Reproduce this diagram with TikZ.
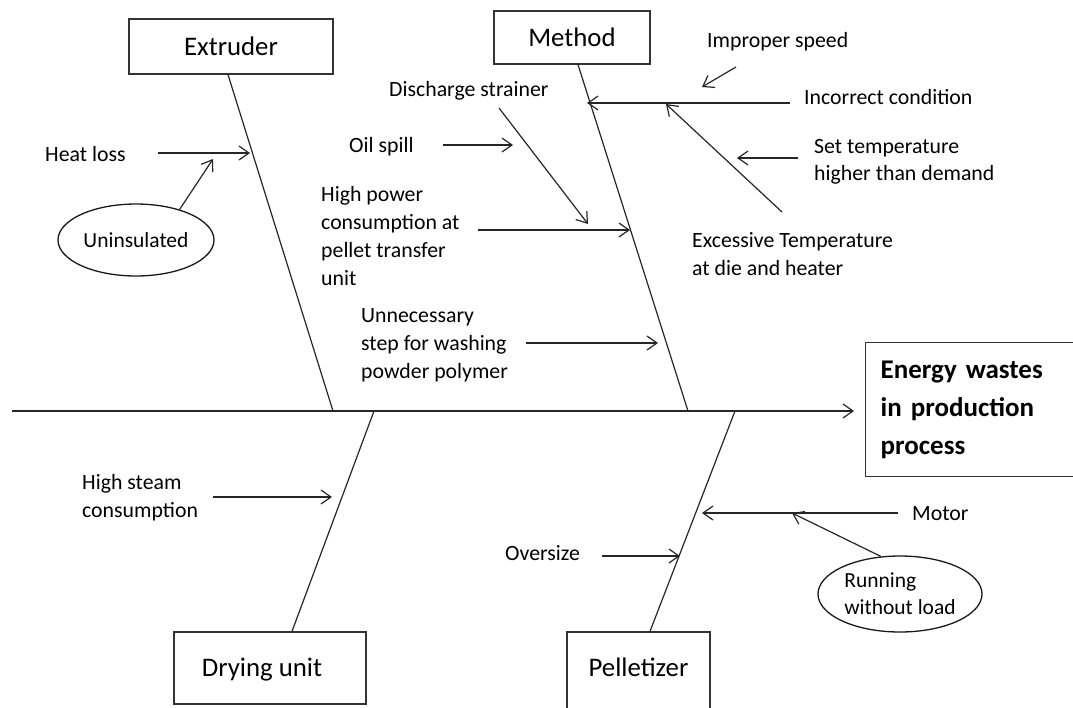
\documentclass[tikz,border=0pt]{standalone}
\usepackage{fontspec}
\setmainfont{Carlito}
\usetikzlibrary{arrows.meta,shapes.geometric}
\begin{document}
\begin{tikzpicture}[x=1pt,y=-1pt,
  ln/.style={line width=1.2pt, draw=black!85},
  arr/.style={ln, -{Straight Barb[length=10pt,width=14pt,line width=1.2pt]}},
  lbl/.style={font=\fontsize{21.8}{28}\selectfont, inner sep=0pt, anchor=base west, align=left, text=black},
  catbox/.style={draw=black!80, line width=1.3pt, inner sep=0pt, font=\fontsize{26.8}{32}\selectfont, text height=17pt, text depth=0pt},
  causeell/.style={ellipse, draw=black!90, line width=1.3pt, inner sep=0pt, font=\fontsize{21.5}{27}\selectfont, align=left}
]
\useasboundingbox (0,0) rectangle (1073,707);

% category boxes
\node[catbox, minimum width=204pt, minimum height=55pt] (ext) at (231,46.5) {Extruder};
\node[catbox, minimum width=156pt, minimum height=53pt] (meth) at (572,37.5) {Method};
\node[catbox, minimum width=192pt, minimum height=72pt] (dry) at (270,668) {Drying unit\hspace*{16pt}};
\node[catbox, minimum width=143pt, minimum height=80pt, text depth=8pt] (pel) at (638.5,672) {Pelletizer};

% effect box
\node[draw=black!80, line width=1.3pt, anchor=north west, minimum width=220pt, minimum height=134pt,
      inner xsep=15pt, inner ysep=0pt, text width=190pt, align=left,
      font=\bfseries\fontsize{27}{38}\selectfont] (eff) at (865,342) {Energy wastes\\in production\\process};

% spine
\coordinate (sL) at (12,411);
\draw[arr, shorten >=11pt] (sL) -- (sL -| eff.west);

% bones
\coordinate (j1) at (333,411);
\coordinate (j2) at (688,411);
\coordinate (j3) at (374,411);
\coordinate (j4) at (735,411);
\draw[ln] ([xshift=-3pt]ext.south) -- (j1);
\draw[ln] ([xshift=6pt]meth.south) -- (j2);
\draw[ln] ([xshift=22pt]dry.north) -- (j3);
\draw[ln] ([xshift=11.5pt]pel.north) -- (j4);

% texts (multi-line: anchor at baseline of last line)
\node[lbl] (heat) at (45,161) {Heat loss};
\node[lbl] (oil) at (349,152) {Oil spill};
\node[lbl] (dis) at (389,96) {Discharge strainer};
\node[lbl] (hp) at (321,285) {High power\\consumption at\\pellet transfer\\unit};
\node[lbl] (un) at (361,378) {Unnecessary\\step for washing\\powder polymer};
\node[lbl] (imp) at (707,47) {Improper speed};
\node[lbl] (inc) at (804,104) {Incorrect condition};
\node[lbl, font=\fontsize{21.8}{27}\selectfont] (set) at (814,180) {Set temperature\\higher than demand};
\node[lbl] (exc) at (692,275) {Excessive Temperature\\at die and heater};
\node[lbl] (hs) at (82,517) {High steam\\consumption};
\node[lbl] (ov) at (505,560) {Oversize};
\node[lbl] (mot) at (912,520) {Motor};

% ellipses
\node[causeell, minimum width=156pt, minimum height=72pt] (unins) at (136,240) {Uninsulated};
\node[causeell, minimum width=164pt, minimum height=76pt] (run) at (900,594) {Running\\without load};

% arrow end points
\coordinate (a1s) at (158,153); \coordinate (a1e) at (250,153);
\coordinate (a2e) at (213,159);
\coordinate (a3s) at (443,145); \coordinate (a3e) at (513,145);
\coordinate (a4s) at (499,108); \coordinate (a4e) at (588,224);
\coordinate (a5s) at (478,230); \coordinate (a5e) at (630,230);
\coordinate (a6s) at (526,343); \coordinate (a6e) at (658,343);
\coordinate (a7s) at (790,103); \coordinate (a7e) at (587,103);
\coordinate (a8s) at (736,67);  \coordinate (a8e) at (702,87);
\coordinate (a9s) at (798,158); \coordinate (a9e) at (737,158);
\coordinate (a10s) at (782,212); \coordinate (a10e) at (666,104);
\coordinate (a11s) at (213,497); \coordinate (a11e) at (332,497);
\coordinate (a12s) at (602,556); \coordinate (a12e) at (680,556);
\coordinate (a13s) at (898,513); \coordinate (a13e) at (702,513);
\coordinate (a14e) at (792,513);

\draw[arr] (a1s) -- (a1e);
\draw[arr] (unins.35) -- (a2e);
\draw[arr] (a3s) -- (a3e);
\draw[arr] (a4s) -- (a4e);
\draw[arr] (a5s) -- (a5e);
\draw[arr] (a6s) -- (a6e);
\draw[arr] (a7s) -- (a7e);
\draw[arr] (a8s) -- (a8e);
\draw[arr] (a9s) -- (a9e);
\draw[arr] (a10s) -- (a10e);
\draw[arr] (a11s) -- (a11e);
\draw[arr] (a12s) -- (a12e);
\draw[arr] (a13s) -- (a13e);
\draw[arr] (run.117) -- (a14e);
\end{tikzpicture}
\end{document}
